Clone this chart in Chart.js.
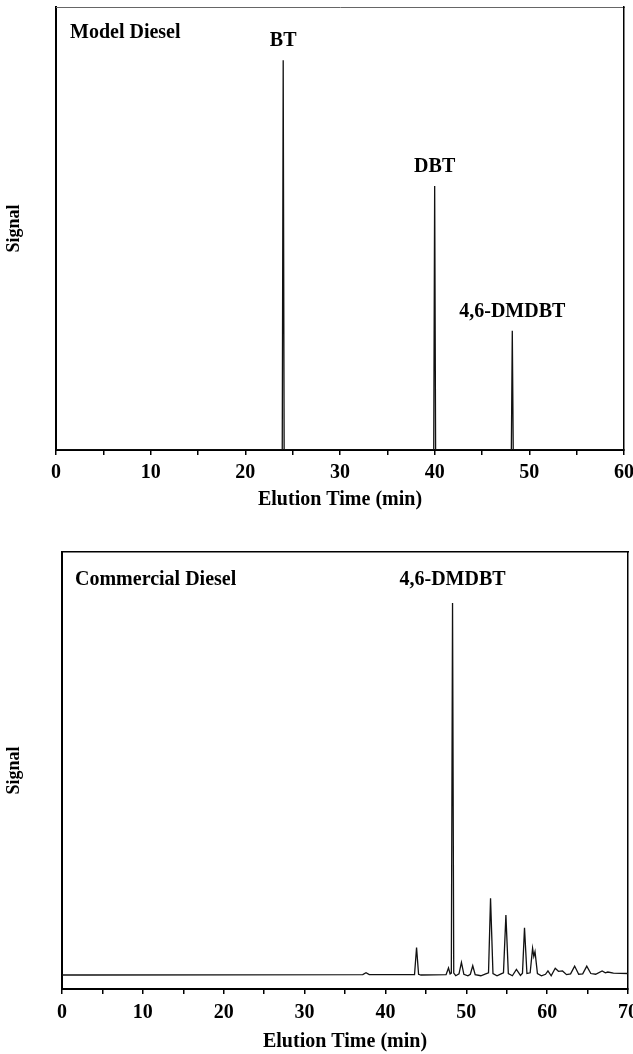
<!DOCTYPE html>
<html>
<head>
<meta charset="utf-8">
<script src="https://cdn.jsdelivr.net/npm/chart.js@4.4.0/dist/chart.umd.min.js"></script>
<style>
  body { margin: 0; background: #fff; }
  canvas { position: absolute; left: 0; }
  #model-chart { top: 0; }
  #commercial-chart { top: 527px; }
</style>
</head>
<body>
<canvas id="model-chart" width="633" height="527"></canvas>
<canvas id="commercial-chart" width="633" height="527"></canvas>
<script>
// model diesel: three sulfur compounds, sharp peaks on a flat baseline
let modelTime   = [0, 23.9, 24.0, 24.1, 39.9, 40.0, 40.1, 48.1, 48.2, 48.3, 60]
let modelSignal = [0, 0, 88.0, 0, 0, 59.6, 0, 0, 26.9, 0, 0]
let modelPeakNames = ['BT', 'DBT', '4,6-DMDBT']
let modelPeakTimes = [24.0, 40.0, 48.2]

// commercial diesel trace (signal scaled so the 4,6-DMDBT peak is 100)
let commercialTime = [0, 3, 37.2, 37.6, 38.0, 43.6, 43.85, 44.1, 44.4, 47.5, 47.8, 48.0, 48.15, 48.3, 48.45, 48.7,
  49.1, 49.4, 49.7, 50.2, 50.5, 50.8, 51.1, 51.8, 52.4, 52.75, 53.0, 53.3, 53.8, 54.3, 54.6, 54.9, 55.2, 55.7,
  56.2, 56.7, 56.95, 57.2, 57.5, 57.9, 58.2, 58.35, 58.5, 58.8, 59.3, 59.8, 60.1, 60.5, 61.0, 61.4, 61.9, 62.4,
  62.9, 63.4, 63.9, 64.4, 64.9, 65.4, 66.0, 66.8, 67.2, 67.5, 68.2, 70]
let commercialSignal = [0, 0, 0.1, 0.6, 0.1, 0.1, 7.4, 0.2, 0, 0.1, 1.9, 0.3, 0.5, 100, 0.5, -0.2,
  0.3, 3.4, 0.2, -0.2, 0.2, 2.5, 0.1, -0.2, 0.3, 0.6, 20.6, 0.4, -0.2, 0.3, 0.6, 16.1, 0.4, -0.2,
  1.5, -0.1, 0.5, 12.7, 0.4, 0.6, 7.2, 5.0, 6.3, 0.4, -0.2, 0.2, 1.1, -0.2, 1.8, 1.0, 1.1, 0.1,
  0.3, 2.4, 0.2, 0.3, 2.4, 0.4, 0.2, 1.1, 0.6, 0.8, 0.5, 0.4]
let commercialPeakNames = ['4,6-DMDBT']
let commercialPeakTimes = [48.3]

let serif = "'Liberation Serif', 'Times New Roman', serif"

function toPoints(xs, ys) {
    return xs.map(function (x, i) { return {x: x, y: ys[i]} })
}

// sample name in the corner and compound names over their peaks
let peakLabels = {
    id: 'peakLabels',
    afterDatasetsDraw(chart, args, opts) {
        let ctx = chart.ctx
        let area = chart.chartArea
        let xs = chart.scales.x
        let ys = chart.scales.y
        ctx.save()
        ctx.fillStyle = '#000'
        ctx.font = 'bold 20px ' + serif
        ctx.textBaseline = 'middle'
        ctx.textAlign = 'left'
        ctx.fillText(opts.sample, area.left + opts.sampleX, area.top + opts.sampleY)
        ctx.textAlign = 'center'
        opts.names.forEach(function (name, i) {
            let t = opts.times[i]
            let px = xs.getPixelForValue(t)
            let py
            if (opts.pinTop) {
                py = area.top + opts.sampleY
            } else {
                let h = opts.signal[opts.time.indexOf(t)]
                py = ys.getPixelForValue(h) - 19
            }
            ctx.fillText(name, px, py)
        })
        ctx.restore()
    }
}

function timeAxis(max, height, labelPad, titlePad) {
    return {
        type: 'linear', min: 0, max: max,
        afterFit(scale) { scale.height = height; scale.paddingLeft = 0; scale.paddingRight = 0 },
        ticks: {
            stepSize: 5, autoSkip: false, maxRotation: 0, padding: labelPad, color: '#000',
            font: {family: serif, size: 20, weight: 'bold', lineHeight: 1},
            callback: function (v) { return v % 10 === 0 ? v : '' }
        },
        grid: {display: true, drawOnChartArea: false, tickLength: 5, color: '#000', lineWidth: 1.5},
        border: {color: '#000', width: 2},
        title: {
            display: true, text: 'Elution Time (min)', color: '#000',
            font: {family: serif, size: 20, weight: 'bold', lineHeight: 1.2},
            padding: {top: 0, bottom: titlePad}
        }
    }
}

function signalAxis(min, max, width) {
    return {
        type: 'linear', min: min, max: max,
        afterFit(scale) { scale.width = width; scale.paddingTop = 0; scale.paddingBottom = 0 },
        ticks: {display: false},
        grid: {display: true, drawOnChartArea: false, drawTicks: false},
        border: {color: '#000', width: 2},
        title: {
            display: true, text: 'Signal', color: '#000',
            font: {family: serif, size: 18, weight: 'bold', lineHeight: 1.2},
            padding: {top: 4, bottom: 0}
        }
    }
}

// plain lines closing the frame on top and right
function frameAxis(position, min, max, color, width) {
    return {
        type: 'linear', position: position, min: min, max: max,
        ticks: {display: false},
        grid: {display: true, drawOnChartArea: false, drawTicks: false},
        border: {color: color, width: width}
    }
}

function makeChart(canvasId, cfg) {
    let ctx = document.querySelector(canvasId).getContext('2d')
    return new Chart(ctx, {
        type: 'line',
        data: {
            datasets: [{
                data: toPoints(cfg.time, cfg.signal),
                borderColor: '#111',
                borderWidth: 1.3,
                pointRadius: 0,
                tension: 0,
                fill: false
            }]
        },
        options: {
            responsive: false,
            animation: false,
            events: [],
            layout: {padding: cfg.padding},
            scales: {
                x: timeAxis(cfg.xMax, cfg.xHeight, cfg.labelPad, cfg.titlePad),
                y: signalAxis(cfg.yMin, cfg.yMax, cfg.yWidth),
                xTop: frameAxis('top', 0, cfg.xMax, cfg.topColor, cfg.topWidth),
                yRight: frameAxis('right', cfg.yMin, cfg.yMax, '#000', 1.5)
            },
            plugins: {
                legend: {display: false},
                tooltip: {enabled: false},
                peakLabels: cfg.labels
            }
        },
        plugins: [peakLabels]
    })
}

let modelChart = makeChart('#model-chart', {
    time: modelTime, signal: modelSignal,
    xMax: 60, xHeight: 77, labelPad: 8, titlePad: 15,
    yMin: 0, yMax: 100, yWidth: 56,
    padding: {top: 7, right: 9, left: 0, bottom: 0},
    topColor: '#666', topWidth: 1,
    labels: {
        sample: 'Model Diesel', sampleX: 14, sampleY: 26,
        names: modelPeakNames, times: modelPeakTimes,
        time: modelTime, signal: modelSignal, pinTop: false
    }
})

let commercialChart = makeChart('#commercial-chart', {
    time: commercialTime, signal: commercialSignal,
    xMax: 70, xHeight: 65, labelPad: 9, titlePad: 0,
    yMin: -3.76, yMax: 113.7, yWidth: 62,
    padding: {top: 25, right: 5, left: 0, bottom: 0},
    topColor: '#000', topWidth: 1.5,
    labels: {
        sample: 'Commercial Diesel', sampleX: 13, sampleY: 28,
        names: commercialPeakNames, times: commercialPeakTimes,
        time: commercialTime, signal: commercialSignal, pinTop: true
    }
})
</script>
</body>
</html>
